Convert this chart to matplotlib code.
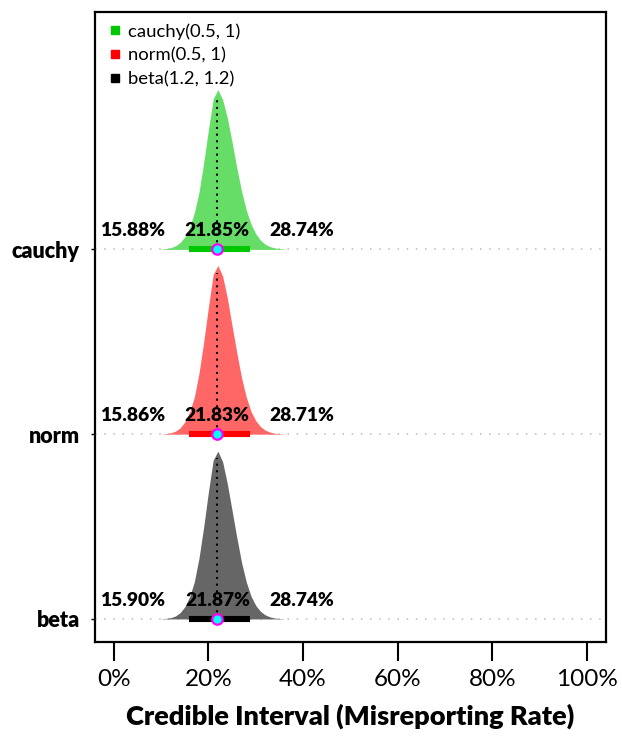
import matplotlib
matplotlib.use("Agg")
import matplotlib.pyplot as plt
from matplotlib.lines import Line2D

plt.rcParams['font.family'] = ['Lato', 'DejaVu Sans']

# posterior summaries (percent)
models = ["beta", "norm", "cauchy"]
legend_labels = ["cauchy(0.5, 1)", "norm(0.5, 1)", "beta(1.2, 1.2)"]
lower = [15.90, 15.86, 15.88]
median = [21.87, 21.83, 21.85]
upper = [28.74, 28.71, 28.74]

fill_colors = ["#666666", "#FF6666", "#66DD66"]
bar_colors = ["#000000", "#FF0000", "#00C800"]

grid_x = [10, 11, 12, 13, 14, 15, 16, 17, 18, 19, 20, 21, 22, 23,
          24, 25, 26, 27, 28, 29, 30, 31, 32, 33, 34, 35, 36]
dens_beta = [0.001, 0.003, 0.007, 0.016, 0.034, 0.066, 0.119, 0.20, 0.33, 0.50,
             0.69, 0.86, 0.908, 0.85, 0.73, 0.585, 0.44, 0.305, 0.20, 0.123,
             0.073, 0.041, 0.022, 0.011, 0.005, 0.002, 0.001]
dens_norm = [0.001, 0.003, 0.007, 0.016, 0.034, 0.066, 0.119, 0.20, 0.33, 0.50,
             0.69, 0.865, 0.913, 0.855, 0.735, 0.585, 0.44, 0.305, 0.20, 0.123,
             0.073, 0.041, 0.022, 0.011, 0.005, 0.002, 0.001]
dens_cauchy = [0.002, 0.004, 0.009, 0.019, 0.037, 0.068, 0.118, 0.197, 0.31, 0.47,
               0.65, 0.815, 0.865, 0.81, 0.71, 0.58, 0.44, 0.315, 0.212, 0.137,
               0.085, 0.05, 0.028, 0.015, 0.008, 0.004, 0.002]
densities = [dens_beta, dens_norm, dens_cauchy]

xticks = [0, 20, 40, 60, 80, 100]

fig = plt.figure(figsize=(6.22, 7.40), dpi=100)
ax = fig.add_axes([0.1527, 0.1324, 0.8211, 0.8514])

for i, m in enumerate(models):
    base = i + 1
    d = densities[i]
    ax.axhline(base, color="#BBBBBB", lw=1.1, ls=(0, (1, 5)), zorder=1)
    ax.fill_between(grid_x, base, [base + v for v in d], color=fill_colors[i],
                    lw=0, zorder=2)
    # height at the median for the dotted line
    k = int(median[i]) - grid_x[0]
    f = median[i] - int(median[i])
    h = d[k] + (d[k + 1] - d[k]) * f
    ax.plot([median[i], median[i]], [base, base + h - 0.03], color="black", lw=1.5,
            ls=(0, (1, 2.2)), zorder=3)
    ax.plot([lower[i], upper[i]], [base, base], color=bar_colors[i], lw=4.4,
            solid_capstyle="butt", zorder=4)
    ax.plot(median[i], base, "o", ms=7.5, mfc="#00FFFF", mec="#FF00FF", mew=1.6,
            zorder=5)
    ty = base + 0.1
    ax.text(lower[i] - 5.0, ty, f"{lower[i]:.2f}%", ha="right", va="center",
            fontsize=13.8, fontweight="heavy", zorder=6)
    ax.text(median[i], ty, f"{median[i]:.2f}%", ha="center", va="center",
            fontsize=13.8, fontweight="heavy", zorder=6)
    ax.text(upper[i] + 4.2, ty, f"{upper[i]:.2f}%", ha="left", va="center",
            fontsize=13.8, fontweight="heavy", zorder=6)

ax.set_xlim(-4, 104)
ax.set_ylim(0.875, 4.285)
ax.set_xticks(xticks)
ax.set_xticklabels([f"{t}%" for t in xticks], fontsize=17.5)
ax.set_yticks([1, 2, 3])
ax.set_yticklabels(models, fontsize=15.5, fontweight="heavy")
ax.tick_params(axis="x", length=13.5, width=1.5, pad=6)
ax.tick_params(axis="y", length=3, width=1.0, pad=8)
for s in ax.spines.values():
    s.set_linewidth(1.6)

ax.set_xlabel("Credible Interval (Misreporting Rate)", fontsize=19.5,
              fontweight="heavy", labelpad=10)

handles = [Line2D([], [], ls="", marker="s", ms=6, color=c)
           for c in ["#00C800", "#FF0000", "#000000"]]
ax.legend(handles, legend_labels, loc="upper left", frameon=False,
          fontsize=13.3, handletextpad=0.2, labelspacing=0.42,
          borderaxespad=0.2, handlelength=1.0)

fig.savefig("out.png", dpi=100)
